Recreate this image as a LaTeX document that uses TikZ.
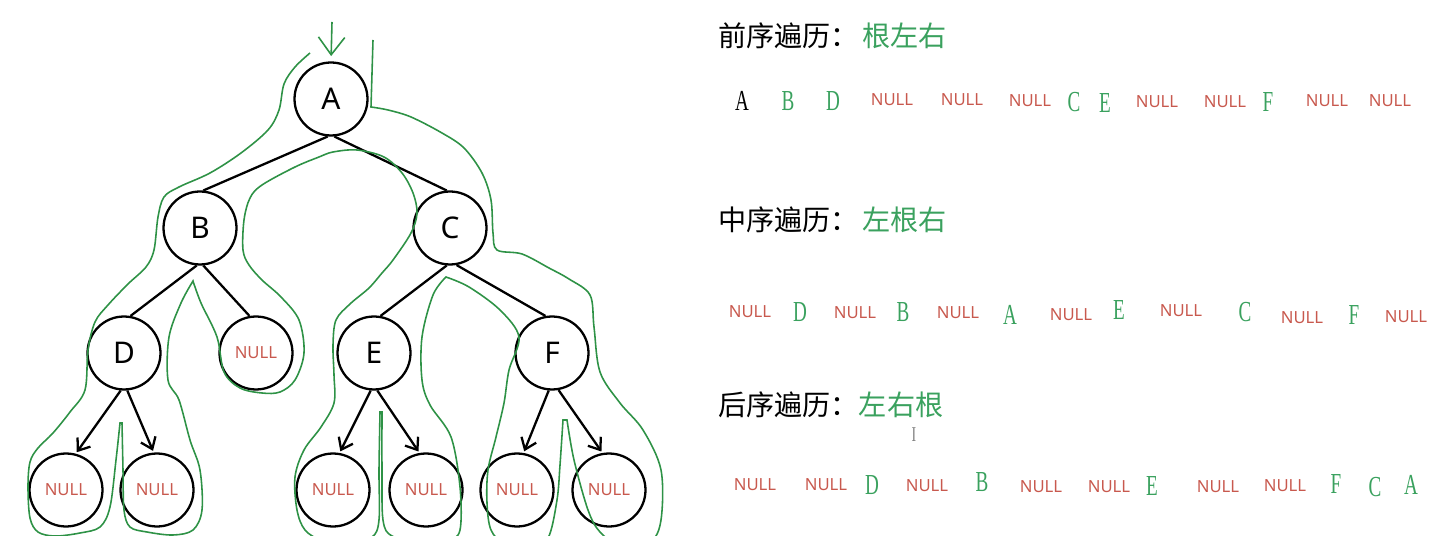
\documentclass[tikz,border=0pt]{standalone}
\usepackage{fontspec}
\setmainfont{Liberation Serif}
\newfontfamily\cjkfont{Noto Sans CJK SC}
\newfontfamily\labelfont{Noto Sans}
\newfontfamily\seqfont[FakeStretch=0.66]{Liberation Serif}
\usepackage{xcolor}
\usetikzlibrary{arrows.meta}
\definecolor{cGreen}{HTML}{3AA15E}
\definecolor{cLine}{HTML}{2E9246}
\definecolor{cRed}{HTML}{C8594E}

\begin{document}
\begin{tikzpicture}[
  x=0.02cm, y=-0.02cm,
  every node/.style={inner sep=0pt},
  tnode/.style={draw, circle, line width=1.3pt, minimum size=1.46cm, font=\labelfont\fontsize{17}{17}\selectfont},
  nullnode/.style={tnode, text=cRed, font=\labelfont\fontsize{9.5}{10}\selectfont},
  edge/.style={line width=1.3pt},
  child/.style={edge, -{Straight Barb[length=6pt, width=9pt]}, shorten >=1pt},
  trace/.style={cLine, line width=0.9pt},
  heading/.style={anchor=west, font=\cjkfont\fontsize{16}{16}\selectfont},
  grn/.style={text=cGreen, font=\seqfont\fontsize{16.5}{17}\selectfont},
  blk/.style={grn, text=black},
  nul/.style={text=cRed, font=\labelfont\fontsize{9.5}{10}\selectfont},
]

\useasboundingbox (0,0) rectangle (1442,536);

% tree
\node[tnode] (A) at (331,99) {A};
\node[tnode] (B) at (200,228) {B};
\node[tnode] (C) at (450,228) {C};
\node[tnode] (D) at (124,353) {D};
\node[nullnode] (nB) at (256,353) {NULL};
\node[tnode] (E) at (374,353) {E};
\node[tnode] (F) at (552,353) {F};
\node[nullnode] (nD1) at (66,490) {NULL};
\node[nullnode] (nD2) at (157,490) {NULL};
\node[nullnode] (nE1) at (333,490) {NULL};
\node[nullnode] (nE2) at (426,490) {NULL};
\node[nullnode] (nF1) at (517,490) {NULL};
\node[nullnode] (nF2) at (609,490) {NULL};

\draw[edge] (A.265) -- (B.85);
\draw[edge] (A.275) -- (C.95);
\draw[edge] (B.265) -- (D.80);
\draw[edge] (B.275) -- (nB.100);
\draw[edge] (C.265) -- (E.80);
\draw[edge] (C.280) -- (F.100);
\draw[child] (D.265) -- (nD1.75);
\draw[child] (D.275) -- (nD2.95);
\draw[child] (E.265) -- (nE1.80);
\draw[child] (E.275) -- (nE2.100);
\draw[child] (F.265) -- (nF1.80);
\draw[child] (F.280) -- (nF2.100);

% traversal contour
\coordinate (entry) at (332,22);
\draw[trace, -{Straight Barb[length=10pt, width=15pt]}, shorten >=3pt] (entry) -- (A.north);
\begin{scope}
\clip (0,0) rectangle (1442,536);
\draw[trace] plot[smooth, tension=0.55] coordinates {(310,53) (295,67) (284,84) (279,110) (268,130) (241,153) (210,173) (179,187) (164,197) (158,217) (154,250) (146,267) (128,284) (108,305) (95,322) (88,350) (85,390) (70,412) (53,433) (38,448) (30,462) (28,487) (30,518) (38,532) (55,536) (80,533) (100,527) (110,507) (116,460) (120,423)}
  -- plot[smooth, tension=0.55] coordinates {(122,423) (123,470) (124,510) (130,527) (147,532) (173,535) (193,530) (202,510) (200,470) (190,440) (179,400) (168,380) (169,337) (181,303) (193,281)}
  -- plot[smooth, tension=0.55] coordinates {(193,281) (201,303) (217,337) (224,372) (240,388) (262,393) (280,392) (295,380) (304,353) (299,320) (281,297) (262,280) (249,265) (243,250) (244,220) (250,198) (262,185) (295,167) (319,157) (333,152) (357,150) (384,157) (402,173) (413,193) (417,213) (411,233) (393,260) (382,273) (369,288) (350,304) (336,320) (333,345) (334,375) (334,403) (321,427) (304,450) (295,477) (297,510) (305,530) (322,540) (350,541) (372,537) (379,520) (379,470) (380,412)}
  -- plot[smooth, tension=0.55] coordinates {(382,412) (382,470) (383,520) (392,536) (420,541) (448,540) (460,530) (460,487) (451,437) (430,405) (422,380) (422,337) (433,295) (446,277)}
  -- plot[smooth, tension=0.55] coordinates {(446,277) (469,287) (500,310) (519,337) (509,370) (504,403) (496,437) (488,470) (487,503) (491,530) (505,544) (530,545) (548,538) (557,500) (560,465) (563,420)}
  -- plot[smooth, tension=0.55] coordinates {(567,420) (574,460) (588,510) (600,532) (620,545) (650,542) (661,520) (661,470) (643,430) (620,403) (600,372) (594,327) (590,295) (569,279) (549,268) (522,254) (497,250) (493,233) (491,200) (482,173) (464,148) (442,133) (411,117) (388,110) (371,107)}
  -- (373,40);
\end{scope}

% traversal orders
\node[heading] (preHead) at (718,36) {前序遍历：\hspace{2pt}\textcolor{cGreen}{根左右}};
\node[heading] (inHead) at (718,220) {中序遍历：\hspace{2pt}\textcolor{cGreen}{左根右}};
\node[heading] (postHead) at (718,405) {后序遍历：\textcolor{cGreen}{左右根}};

\foreach \s/\t/\x/\y [count=\i] in {blk/A/742/101, grn/B/788/101, grn/D/833/101, nul/NULL/892/100, nul/NULL/962/100, nul/NULL/1030/101, grn/C/1074/102, grn/E/1105/103, nul/NULL/1157/102, nul/NULL/1225/102, grn/F/1268/102, nul/NULL/1327/101, nul/NULL/1390/101}
  \node[\s] (pre\i) at (\x,\y) {\t};

\foreach \s/\t/\x/\y [count=\i] in {nul/NULL/750/312, grn/D/800/312, nul/NULL/855/313, grn/B/903/312, nul/NULL/958/313, grn/A/1010/315, nul/NULL/1071/315, grn/E/1119/310, nul/NULL/1181/311, grn/C/1245/312, nul/NULL/1302/318, grn/F/1354/315, nul/NULL/1406/317}
  \node[\s] (in\i) at (\x,\y) {\t};

\foreach \s/\t/\x/\y [count=\i] in {nul/NULL/755/485, nul/NULL/826/485, grn/D/872/485, nul/NULL/927/486, grn/B/982/482, nul/NULL/1041/487, nul/NULL/1109/487, grn/E/1152/486, nul/NULL/1218/487, nul/NULL/1285/486, grn/F/1336/484, grn/C/1375/487, grn/A/1411/485}
  \node[\s] (post\i) at (\x,\y) {\t};

\node[text=gray, font=\seqfont\fontsize{12}{12}\selectfont] (cursor) at (914,435) {I};

\end{tikzpicture}
\end{document}
